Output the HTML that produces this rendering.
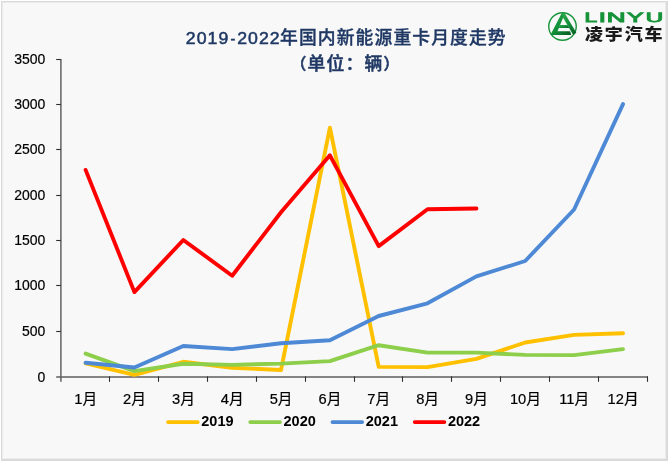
<!DOCTYPE html>
<html lang="zh-CN"><head><meta charset="utf-8"><title>2019-2022年国内新能源重卡月度走势</title>
<style>
html,body{margin:0;padding:0;background:#fff;}
body{width:670px;height:462px;overflow:hidden;position:relative;font-family:"Liberation Sans","Noto Sans CJK SC",sans-serif;}
svg{position:absolute;left:0;top:0;}
.ax{font-family:"Liberation Sans","Noto Sans CJK SC",sans-serif;font-size:14px;fill:#000;stroke:#000;stroke-width:0.2px;}
.ttl{font-family:"Liberation Sans","Noto Sans CJK SC",sans-serif;font-weight:bold;fill:#1f3864;}
.lg{font-family:"Liberation Sans",sans-serif;font-weight:bold;font-size:14.5px;fill:#000;}
</style></head><body>
<svg width="670" height="462" viewBox="0 0 670 462">

<g shape-rendering="crispEdges"><rect x="1" y="1" width="667" height="460" fill="#dadada"/><rect x="2" y="2" width="664" height="457" fill="#ececec"/><rect x="3" y="3" width="662" height="455" fill="#f8f8f8"/></g>
<g stroke="#5e5e5e" stroke-width="1.45" fill="none">
<line x1="60.9" y1="59" x2="60.9" y2="381.8"/>
<line x1="56.2" y1="377" x2="648.0" y2="377"/>
</g>
<g stroke="#2e2e2e" stroke-width="1.1" fill="none">
<line x1="56.2" y1="331.5" x2="60.9" y2="331.5"/>
<line x1="56.2" y1="285.5" x2="60.9" y2="285.5"/>
<line x1="56.2" y1="240.5" x2="60.9" y2="240.5"/>
<line x1="56.2" y1="195.5" x2="60.9" y2="195.5"/>
<line x1="56.2" y1="149.5" x2="60.9" y2="149.5"/>
<line x1="56.2" y1="104.5" x2="60.9" y2="104.5"/>
<line x1="56.2" y1="59.5" x2="60.9" y2="59.5"/>
<line x1="109.5" y1="376.4" x2="109.5" y2="381.8"/>
<line x1="158.5" y1="376.4" x2="158.5" y2="381.8"/>
<line x1="207.5" y1="376.4" x2="207.5" y2="381.8"/>
<line x1="256.5" y1="376.4" x2="256.5" y2="381.8"/>
<line x1="305.5" y1="376.4" x2="305.5" y2="381.8"/>
<line x1="354.5" y1="376.4" x2="354.5" y2="381.8"/>
<line x1="402.5" y1="376.4" x2="402.5" y2="381.8"/>
<line x1="451.5" y1="376.4" x2="451.5" y2="381.8"/>
<line x1="500.5" y1="376.4" x2="500.5" y2="381.8"/>
<line x1="549.5" y1="376.4" x2="549.5" y2="381.8"/>
<line x1="598.5" y1="376.4" x2="598.5" y2="381.8"/>
<line x1="647.5" y1="376.4" x2="647.5" y2="381.8"/>
</g>
<g class="ax" text-anchor="end">
<text x="45.3" y="381.5">0</text>
<text x="45.3" y="336.0">500</text>
<text x="45.3" y="290.0">1000</text>
<text x="45.3" y="245.0">1500</text>
<text x="45.3" y="200.0">2000</text>
<text x="45.3" y="154.0">2500</text>
<text x="45.3" y="109.0">3000</text>
<text x="45.3" y="64.0">3500</text>
</g>
<g class="ax" text-anchor="middle" style="font-size:14.7px">
<text x="85.7" y="403.9">1月</text>
<text x="134.5" y="403.9">2月</text>
<text x="183.4" y="403.9">3月</text>
<text x="232.2" y="403.9">4月</text>
<text x="281.1" y="403.9">5月</text>
<text x="330.0" y="403.9">6月</text>
<text x="378.8" y="403.9">7月</text>
<text x="427.6" y="403.9">8月</text>
<text x="476.5" y="403.9">9月</text>
<text x="525.4" y="403.9">10月</text>
<text x="574.2" y="403.9">11月</text>
<text x="623.1" y="403.9">12月</text>
</g>
<polyline points="85.6,363.3 134.4,374.8 183.3,361.8 232.2,367.8 281.0,370.0 329.9,127.7 378.7,366.9 427.5,367.1 476.4,358.8 525.2,342.5 574.1,334.9 623.0,333.3" fill="none" stroke="#ffc000" stroke-width="3.9" stroke-linejoin="round" stroke-linecap="round"/>
<polyline points="85.6,353.6 134.4,371.1 183.3,363.8 232.2,364.9 281.0,363.6 329.9,361.1 378.7,345.2 427.5,352.6 476.4,352.6 525.2,354.9 574.1,355.1 623.0,349.1" fill="none" stroke="#8dce4b" stroke-width="3.9" stroke-linejoin="round" stroke-linecap="round"/>
<polyline points="85.6,362.8 134.4,367.5 183.3,346.0 232.2,349.1 281.0,343.3 329.9,340.3 378.7,316.0 427.5,303.3 476.4,276.4 525.2,261.0 574.1,209.5 623.0,104.1" fill="none" stroke="#4e89d6" stroke-width="3.9" stroke-linejoin="round" stroke-linecap="round"/>
<polyline points="85.6,169.9 134.4,292.1 183.3,240.0 232.2,275.7 281.0,212.3 329.9,155.3 378.7,246.1 427.5,209.3 476.4,208.5" fill="none" stroke="#ff0000" stroke-width="3.9" stroke-linejoin="round" stroke-linecap="round"/>
<text class="ttl" transform="translate(185.8,44.3) scale(1.04,1)" font-size="17" letter-spacing="1.00" style="font-weight:normal" stroke="#1f3864" stroke-width="0.5">2019</text>
<text class="ttl" transform="translate(230.4,44.3) scale(0.85,1)" font-size="17" letter-spacing="0.00" style="font-weight:normal" stroke="#1f3864" stroke-width="0.5">-</text>
<text class="ttl" transform="translate(237.2,44.3) scale(1.04,1)" font-size="17" letter-spacing="1.00" style="font-weight:normal" stroke="#1f3864" stroke-width="0.5">2022</text>
<text class="ttl" x="280.1" y="44.4" font-size="17.8" letter-spacing="1.1" style="font-weight:500" stroke="#1f3864" stroke-width="0.35">年国内新能源重卡月度走势</text>
<text class="ttl" x="288.6" y="69.6" font-size="17.8" letter-spacing="1.2" style="font-weight:500" stroke="#1f3864" stroke-width="0.5"><tspan font-size="15.8" dx="1.9" dy="-0.7">（</tspan><tspan dy="0.7">单位：辆</tspan><tspan font-size="15.8" dy="-0.7">）</tspan></text>
<line x1="168.0" y1="422.1" x2="197.8" y2="422.1" stroke="#ffc000" stroke-width="3.7" stroke-linecap="round"/>
<text class="lg" x="201.3" y="426.2">2019</text>
<line x1="250.2" y1="422.1" x2="280.0" y2="422.1" stroke="#8dce4b" stroke-width="3.7" stroke-linecap="round"/>
<text class="lg" x="283.5" y="426.2">2020</text>
<line x1="332.4" y1="422.1" x2="362.2" y2="422.1" stroke="#4e89d6" stroke-width="3.7" stroke-linecap="round"/>
<text class="lg" x="365.7" y="426.2">2021</text>
<line x1="414.7" y1="422.1" x2="444.4" y2="422.1" stroke="#ff0000" stroke-width="3.7" stroke-linecap="round"/>
<text class="lg" x="447.9" y="426.2">2022</text>
<defs><linearGradient id="lg1" x1="0" y1="0" x2="1" y2="1"><stop offset="0" stop-color="#2dab4a"/><stop offset="0.5" stop-color="#12903a"/><stop offset="1" stop-color="#075a24"/></linearGradient></defs>
<g id="logo">
<circle cx="562.5" cy="26.5" r="13.75" fill="none" stroke="#17943a" stroke-width="1.4"/>
<path d="M550.4 34.9 L561.8 13.0 L564.5 13.0 L563.1 17.7 L557.5 31.2 L570.1 31.2 L571.3 34.9 Z" fill="url(#lg1)"/>
<path d="M562.4 13.0 L564.6 12.9 L576.3 32.7 L573.2 35.0 L563.1 17.7 Z" fill="url(#lg1)"/>
<path d="M560.0 25.0 L567.5 25.0 L569.3 28.1 L558.7 28.1 Z" fill="url(#lg1)"/>
<text transform="translate(590.90,22.25) scale(1.70,1)" text-anchor="middle" font-family="'Liberation Sans',sans-serif" font-size="13.4" fill="#17943a" stroke="#17943a" stroke-width="0.9" vector-effect="non-scaling-stroke" text-rendering="geometricPrecision">L</text>
<text transform="translate(602.25,22.25) scale(1.90,1)" text-anchor="middle" font-family="'Liberation Sans',sans-serif" font-size="13.4" fill="#17943a" stroke="#17943a" stroke-width="0.9" vector-effect="non-scaling-stroke" text-rendering="geometricPrecision">I</text>
<text transform="translate(616.15,22.25) scale(1.94,1)" text-anchor="middle" font-family="'Liberation Sans',sans-serif" font-size="13.4" fill="#17943a" stroke="#17943a" stroke-width="0.9" vector-effect="non-scaling-stroke" text-rendering="geometricPrecision">N</text>
<text transform="translate(635.15,22.25) scale(1.85,1)" text-anchor="middle" font-family="'Liberation Sans',sans-serif" font-size="13.4" fill="#17943a" stroke="#17943a" stroke-width="0.9" vector-effect="non-scaling-stroke" text-rendering="geometricPrecision">Y</text>
<text transform="translate(654.55,22.25) scale(1.80,1)" text-anchor="middle" font-family="'Liberation Sans',sans-serif" font-size="13.4" fill="#17943a" stroke="#17943a" stroke-width="0.9" vector-effect="non-scaling-stroke" text-rendering="geometricPrecision">U</text>
<text transform="translate(584.9,40.3) scale(1.10,1)" font-family="'Noto Sans CJK SC',sans-serif" font-weight="900" font-size="16.4" letter-spacing="1.7" fill="#1a1a1a">凌宇汽车</text>
</g>
</svg></body></html>
